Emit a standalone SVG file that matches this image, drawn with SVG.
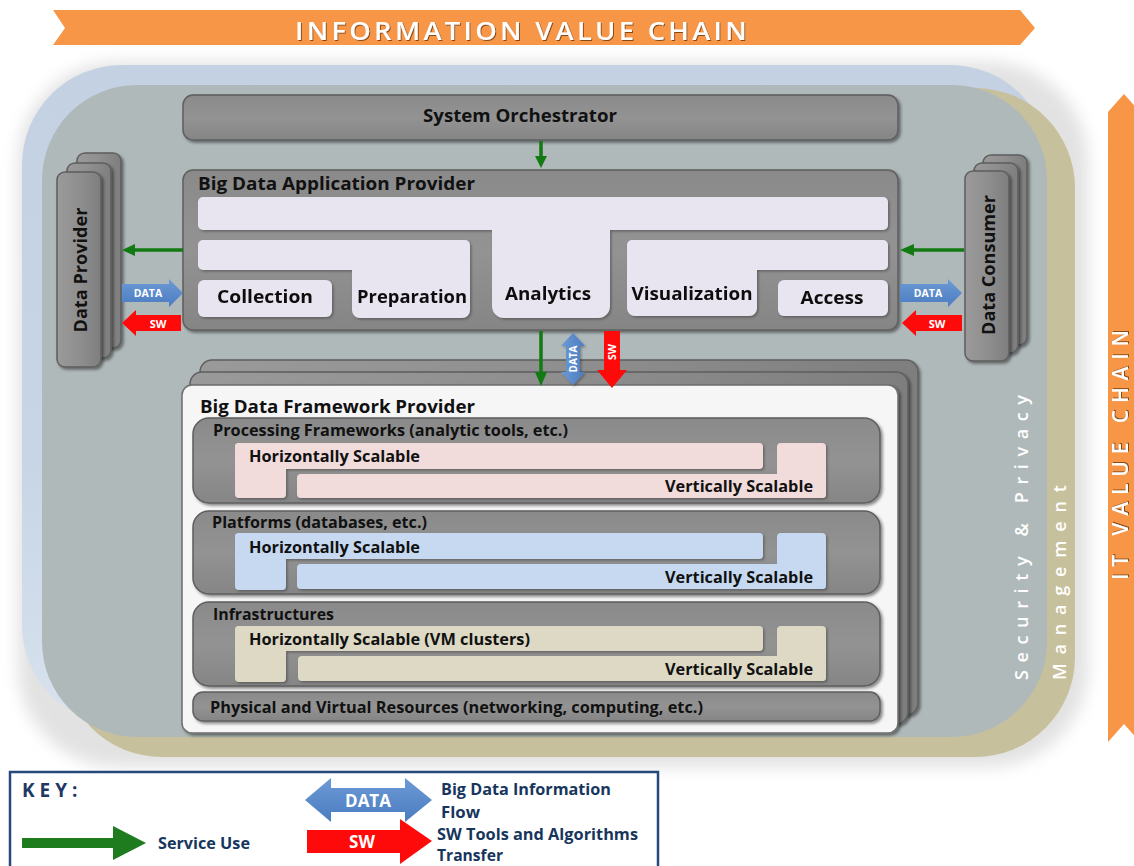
<svg xmlns="http://www.w3.org/2000/svg" width="1134" height="866" viewBox="0 0 1134 866">
<defs>
  <filter id="sh" x="-10%" y="-10%" width="130%" height="130%">
    <feDropShadow dx="2" dy="2" stdDeviation="1.5" flood-color="#000" flood-opacity="0.45"/>
  </filter>
  <filter id="shs" x="-10%" y="-10%" width="130%" height="130%">
    <feDropShadow dx="1.5" dy="1.5" stdDeviation="1" flood-color="#000" flood-opacity="0.3"/>
  </filter>
  <filter id="glow" x="-10%" y="-10%" width="120%" height="120%">
    <feGaussianBlur stdDeviation="8"/>
  </filter>
  <filter id="tsh" x="-5%" y="-20%" width="110%" height="150%">
    <feDropShadow dx="1" dy="1" stdDeviation="0.6" flood-color="#5a2a00" flood-opacity="0.7"/>
  </filter>
  <linearGradient id="gbox" x1="0" y1="0" x2="0" y2="1">
    <stop offset="0" stop-color="#8a8a8a"/>
    <stop offset="0.5" stop-color="#939393"/>
    <stop offset="1" stop-color="#858585"/>
  </linearGradient>
  <linearGradient id="gcard" x1="0" y1="0" x2="1" y2="0">
    <stop offset="0" stop-color="#9a9a9a"/>
    <stop offset="0.5" stop-color="#8f8f8f"/>
    <stop offset="1" stop-color="#7e7e7e"/>
  </linearGradient>
  <linearGradient id="gblue" x1="0" y1="0" x2="0" y2="1">
    <stop offset="0" stop-color="#c3d1e3"/>
    <stop offset="0.6" stop-color="#c7d5e6"/>
    <stop offset="1" stop-color="#d8e2ee"/>
  </linearGradient>
  <linearGradient id="gdata" x1="0" y1="0" x2="0" y2="1">
    <stop offset="0" stop-color="#6d9ad6"/>
    <stop offset="1" stop-color="#4a7cc0"/>
  </linearGradient>
  <linearGradient id="gdatav" x1="0" y1="0" x2="1" y2="0">
    <stop offset="0" stop-color="#6d9ad6"/>
    <stop offset="1" stop-color="#4a7cc0"/>
  </linearGradient>
</defs>
<style>
  .t { font-family: "Open Sans", "Liberation Sans", sans-serif; font-weight: bold; fill: #111; }
  .f { font-size: 16px; }
  .gbox { fill: url(#gbox); stroke: #5e5e5e; stroke-width: 1.5; }
  .card { fill: url(#gcard); stroke: #5e5e5e; stroke-width: 1.5; }
  .lav { fill: #e9e5f0; }
  .pink { fill: #f2dcdb; }
  .blu { fill: #c6d9f1; }
  .tan { fill: #ddd9c4; }
  .svc { fill: none; stroke: #127a12; stroke-width: 3.5; }
  .svch { fill: #127a12; }
  .data { fill: url(#gdata); }
  .datav { fill: url(#gdatav); }
  .sw { fill: #ff0a0a; }
  .lbl { font-family: "Open Sans", "Liberation Sans", sans-serif; font-weight: bold; fill: #fff; }
  .key { font-family: "Open Sans", "Liberation Sans", sans-serif; font-weight: bold; fill: #17365d; font-size: 15.5px; }
  .band { font-family: "Open Sans", "Liberation Sans", sans-serif; font-weight: 600; fill: #fff; }
</style>

<rect width="1134" height="866" fill="#fff"/>

<!-- top banner -->
<g id="info-value-chain">
  <polygon points="53,10 1020,10 1035,28 1020,45 53,45 65,28" fill="#f79646"/>
  <text class="band" x="295" y="40" font-size="25" letter-spacing="3" textLength="455" lengthAdjust="spacingAndGlyphs" filter="url(#tsh)">INFORMATION VALUE CHAIN</text>
</g>

<!-- right banner -->
<g id="it-value-chain">
  <polygon points="1108,112 1124,94 1140,112 1140,742 1124,724 1108,742" fill="#f79646"/>
  <text class="band" transform="translate(1128,580) rotate(-90)" font-size="21" textLength="250" filter="url(#tsh)">IT VALUE CHAIN</text>
</g>

<!-- background containers -->
<g id="security-management">
  <rect x="18" y="62" width="1070" height="705" rx="100" fill="#d6d6d6" filter="url(#glow)" opacity="0.7"/>
  <rect x="22" y="65" width="1028" height="660" rx="100" fill="url(#gblue)"/>
  <rect x="62" y="88" width="1013" height="669" rx="100" fill="#c7c09c"/>
  <rect x="42" y="85" width="1005" height="652" rx="95" fill="#b0b9ba"/>
  <text class="band" transform="translate(1028,680) rotate(-90)" font-size="18" textLength="285">Security &amp; Privacy</text>
  <text class="band" transform="translate(1066,680) rotate(-90)" font-size="18" textLength="195">Management</text>
</g>

<!-- System Orchestrator -->
<g id="system-orchestrator">
  <rect class="gbox" x="183" y="95" width="715" height="45" rx="10" filter="url(#sh)"/>
  <text class="t" x="520" y="122" font-size="18" text-anchor="middle" textLength="194" lengthAdjust="spacingAndGlyphs">System Orchestrator</text>
</g>

<!-- Data Provider -->
<g id="data-provider">
  <rect class="card" x="77" y="153" width="44" height="195" rx="8" filter="url(#sh)"/>
  <rect class="card" x="67" y="163" width="44" height="195" rx="8" filter="url(#sh)"/>
  <rect class="card" x="57" y="172" width="44" height="195" rx="8" filter="url(#sh)"/>
  <text class="t" transform="translate(87,270) rotate(-90)" font-size="17" text-anchor="middle" textLength="125" lengthAdjust="spacingAndGlyphs">Data Provider</text>
</g>

<!-- Data Consumer -->
<g id="data-consumer">
  <rect class="card" x="983" y="155" width="44" height="190" rx="8" filter="url(#sh)"/>
  <rect class="card" x="974" y="163" width="44" height="190" rx="8" filter="url(#sh)"/>
  <rect class="card" x="965" y="171" width="44" height="190" rx="8" filter="url(#sh)"/>
  <text class="t" transform="translate(995,265) rotate(-90)" font-size="17" text-anchor="middle" textLength="140" lengthAdjust="spacingAndGlyphs">Data Consumer</text>
</g>

<!-- Big Data Application Provider -->
<g id="app-provider">
  <rect class="gbox" x="183" y="170" width="715" height="160" rx="10" filter="url(#sh)"/>
  <text class="t" x="198" y="190" font-size="17.5" textLength="277" lengthAdjust="spacingAndGlyphs">Big Data Application Provider</text>
  <g id="analytics" filter="url(#shs)">
    <rect class="lav" x="198" y="197" width="690" height="33" rx="5"/>
    <rect class="lav" x="492" y="197" width="118" height="121" rx="12"/>
    <text class="t" x="548" y="300" font-size="18" text-anchor="middle" textLength="86" lengthAdjust="spacingAndGlyphs">Analytics</text>
  </g>
  <g id="preparation" filter="url(#shs)">
    <rect class="lav" x="198" y="240" width="272" height="30" rx="5"/>
    <rect class="lav" x="352" y="240" width="118" height="78" rx="8"/>
    <text class="t" x="412" y="303" font-size="18" text-anchor="middle" textLength="110" lengthAdjust="spacingAndGlyphs">Preparation</text>
  </g>
  <g id="collection" filter="url(#shs)">
    <rect class="lav" x="198" y="280" width="134" height="37" rx="6"/>
    <text class="t" x="265" y="303" font-size="18" text-anchor="middle" textLength="96" lengthAdjust="spacingAndGlyphs">Collection</text>
  </g>
  <g id="visualization" filter="url(#shs)">
    <rect class="lav" x="627" y="240" width="261" height="30" rx="5"/>
    <rect class="lav" x="627" y="240" width="130" height="76" rx="8"/>
    <text class="t" x="692" y="300" font-size="18" text-anchor="middle" textLength="121" lengthAdjust="spacingAndGlyphs">Visualization</text>
  </g>
  <g id="access" filter="url(#shs)">
    <rect class="lav" x="778" y="280" width="110" height="36" rx="6"/>
    <text class="t" x="832" y="304" font-size="18" text-anchor="middle" textLength="63" lengthAdjust="spacingAndGlyphs">Access</text>
  </g>
</g>

<!-- Big Data Framework Provider -->
<g id="framework-provider">
  <rect class="card" x="200" y="360" width="718" height="355" rx="12" filter="url(#sh)"/>
  <rect class="card" x="190" y="372" width="718" height="352" rx="12" filter="url(#sh)"/>
  <rect x="182" y="385" width="716" height="348" rx="10" fill="#f6f6f6" stroke="#6e6e6e" stroke-width="1.5" filter="url(#sh)"/>
  <text class="t" x="200" y="413" font-size="17.5" textLength="275" lengthAdjust="spacingAndGlyphs">Big Data Framework Provider</text>

  <g id="processing">
    <rect class="gbox" x="193" y="418" width="687" height="85" rx="16" filter="url(#sh)"/>
    <text class="t f" x="213" y="436" textLength="355" lengthAdjust="spacingAndGlyphs">Processing Frameworks (analytic tools, etc.)</text>
    <g filter="url(#shs)">
      <rect class="pink" x="235" y="443" width="528" height="26" rx="4"/>
      <rect class="pink" x="235" y="443" width="51" height="55" rx="4"/>
      <rect class="pink" x="297" y="474" width="529" height="24" rx="4"/>
      <rect class="pink" x="777" y="443" width="49" height="55" rx="4"/>
    </g>
    <text class="t f" x="249" y="462" textLength="171" lengthAdjust="spacingAndGlyphs">Horizontally Scalable</text>
    <text class="t f" x="813" y="492" text-anchor="end" textLength="148" lengthAdjust="spacingAndGlyphs">Vertically Scalable</text>
  </g>

  <g id="platforms">
    <rect class="gbox" x="193" y="511" width="687" height="83" rx="16" filter="url(#sh)"/>
    <text class="t f" x="212" y="528" textLength="215" lengthAdjust="spacingAndGlyphs">Platforms (databases, etc.)</text>
    <g filter="url(#shs)">
      <rect class="blu" x="235" y="533" width="528" height="26" rx="4"/>
      <rect class="blu" x="235" y="533" width="51" height="57" rx="4"/>
      <rect class="blu" x="297" y="564" width="529" height="25" rx="4"/>
      <rect class="blu" x="777" y="533" width="49" height="56" rx="4"/>
    </g>
    <text class="t f" x="249" y="553" textLength="171" lengthAdjust="spacingAndGlyphs">Horizontally Scalable</text>
    <text class="t f" x="813" y="583" text-anchor="end" textLength="148" lengthAdjust="spacingAndGlyphs">Vertically Scalable</text>
  </g>

  <g id="infrastructures">
    <rect class="gbox" x="193" y="602" width="687" height="84" rx="16" filter="url(#sh)"/>
    <text class="t f" x="213" y="620" textLength="121" lengthAdjust="spacingAndGlyphs">Infrastructures</text>
    <g filter="url(#shs)">
      <rect class="tan" x="235" y="626" width="528" height="25" rx="4"/>
      <rect class="tan" x="235" y="626" width="51" height="56" rx="4"/>
      <rect class="tan" x="298" y="656" width="528" height="25" rx="4"/>
      <rect class="tan" x="777" y="626" width="49" height="55" rx="4"/>
    </g>
    <text class="t f" x="249" y="645" textLength="281" lengthAdjust="spacingAndGlyphs">Horizontally Scalable (VM clusters)</text>
    <text class="t f" x="813" y="675" text-anchor="end" textLength="148" lengthAdjust="spacingAndGlyphs">Vertically Scalable</text>
  </g>

  <g id="physical">
    <rect class="gbox" x="193" y="692" width="687" height="29" rx="10" filter="url(#sh)"/>
    <text class="t f" x="210" y="713" textLength="493" lengthAdjust="spacingAndGlyphs">Physical and Virtual Resources (networking, computing, etc.)</text>
  </g>
</g>

<!-- connectors -->
<g id="connectors">
  <line class="svc" x1="541" y1="141" x2="541" y2="158"/>
  <polygon class="svch" points="535,156 547,156 541,168"/>
  <line class="svc" x1="183" y1="250" x2="133" y2="250"/>
  <polygon class="svch" points="135,244 135,256 122,250"/>
  <polygon class="data" points="122,284 169,284 169,279 183,293 169,307 169,302 122,302"/>
  <text class="lbl" x="148" y="297" font-size="10.5" text-anchor="middle">DATA</text>
  <polygon class="sw" points="181,315 136,315 136,310 122,323 136,336 136,331 181,331"/>
  <text class="lbl" x="158" y="328" font-size="11" text-anchor="middle">SW</text>

  <line class="svc" x1="964" y1="250" x2="912" y2="250"/>
  <polygon class="svch" points="914,244 914,256 900,250"/>
  <polygon class="data" points="900,284 948,284 948,279 962,293 948,307 948,302 900,302"/>
  <text class="lbl" x="928" y="297" font-size="10.5" text-anchor="middle">DATA</text>
  <polygon class="sw" points="962,315 916,315 916,310 902,323 916,336 916,331 962,331"/>
  <text class="lbl" x="937" y="328" font-size="11" text-anchor="middle">SW</text>

  <line class="svc" x1="541" y1="331" x2="541" y2="374"/>
  <polygon class="svch" points="535,372 547,372 541,386"/>
  <polygon class="datav" points="573,333 585,346 580,346 580,372 585,372 573,385 561,372 566,372 566,346 561,346" filter="url(#shs)"/>
  <text class="lbl" transform="translate(577,359) rotate(-90)" font-size="10" text-anchor="middle">DATA</text>
  <polygon class="sw" points="604,331 620,331 620,370 627,370 612,388 597,370 604,370"/>
  <text class="lbl" transform="translate(616,352) rotate(-90)" font-size="10.5" text-anchor="middle">SW</text>
</g>

<!-- key -->
<g id="key">
  <rect x="10" y="772" width="648" height="100" fill="#fff" stroke="#24497a" stroke-width="2.5"/>
  <text x="22" y="797" font-family="'Open Sans', 'Liberation Sans', sans-serif" font-weight="bold" font-size="19" letter-spacing="5" fill="#1f3864">KEY:</text>
  <polygon points="22,838 113,838 113,826 146,843 113,860 113,848 22,848" fill="#1e7b1e"/>
  <text class="key" x="158" y="849" textLength="92" lengthAdjust="spacingAndGlyphs">Service Use</text>
  <polygon points="305,800 331,778 331,788 405,788 405,778 432,800 405,822 405,812 331,812 331,822" fill="url(#gdata)"/>
  <text class="lbl" x="368" y="807" font-size="17" text-anchor="middle">DATA</text>
  <polygon points="307,830 400,830 400,819 432,841 400,864 400,853 307,853" fill="#ff0a0a"/>
  <text class="lbl" x="362" y="848" font-size="17" text-anchor="middle">SW</text>
  <text class="key" x="441" y="795" textLength="170" lengthAdjust="spacingAndGlyphs">Big Data Information</text>
  <text class="key" x="441" y="818" textLength="39" lengthAdjust="spacingAndGlyphs">Flow</text>
  <text class="key" x="437" y="840" textLength="201" lengthAdjust="spacingAndGlyphs">SW Tools and Algorithms</text>
  <text class="key" x="437" y="861" font-size="15" textLength="66" lengthAdjust="spacingAndGlyphs">Transfer</text>
</g>
</svg>
